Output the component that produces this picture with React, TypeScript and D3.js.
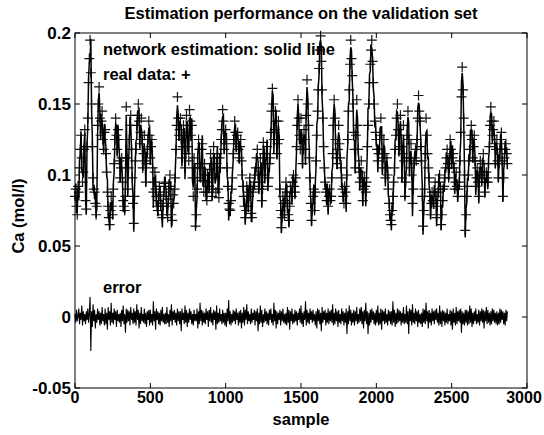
import React from 'react';
import * as d3 from 'd3';

// Ca, real data, read every 5 samples (sample = index * 5)
const realData = [
  0.085, 0.09, 0.078, 0.072, 0.092, 0.088, 0.105, 0.118, 0.128, 0.112, 0.095, 0.102, 0.118, 0.132, 0.082, 0.076, 0.12, 0.14, 0.165, 0.182,
  0.195, 0.172, 0.15, 0.12, 0.098, 0.09, 0.088, 0.08, 0.072, 0.078, 0.135, 0.15, 0.162, 0.14, 0.128, 0.138, 0.145, 0.125, 0.118, 0.13,
  0.132, 0.115, 0.102, 0.088, 0.078, 0.07, 0.065, 0.075, 0.085, 0.078, 0.072, 0.09, 0.108, 0.125, 0.14, 0.128, 0.118, 0.132, 0.125, 0.11,
  0.098, 0.105, 0.112, 0.095, 0.082, 0.078, 0.075, 0.085, 0.148, 0.112, 0.09, 0.105, 0.125, 0.135, 0.142, 0.118, 0.098, 0.08, 0.066, 0.085,
  0.11, 0.118, 0.135, 0.142, 0.15, 0.138, 0.122, 0.13, 0.14, 0.125, 0.105, 0.115, 0.128, 0.11, 0.095, 0.108, 0.118, 0.125, 0.138, 0.128,
  0.112, 0.12, 0.125, 0.105, 0.088, 0.095, 0.102, 0.09, 0.085, 0.078, 0.075, 0.082, 0.092, 0.086, 0.08, 0.072, 0.07, 0.078, 0.088, 0.094,
  0.095, 0.085, 0.078, 0.07, 0.083, 0.09, 0.1, 0.092, 0.072, 0.068, 0.086, 0.08, 0.09, 0.098, 0.118, 0.135, 0.155, 0.14, 0.128, 0.132,
  0.14, 0.125, 0.112, 0.12, 0.135, 0.128, 0.105, 0.115, 0.142, 0.13, 0.12, 0.11, 0.146, 0.138, 0.128, 0.135, 0.098, 0.085, 0.112, 0.105,
  0.064, 0.072, 0.09, 0.108, 0.125, 0.118, 0.105, 0.098, 0.118, 0.122, 0.096, 0.088, 0.108, 0.1, 0.088, 0.082, 0.1, 0.095, 0.092, 0.104,
  0.115, 0.108, 0.085, 0.09, 0.12, 0.112, 0.098, 0.088, 0.108, 0.115, 0.09, 0.084, 0.112, 0.105, 0.125, 0.132, 0.146, 0.138, 0.118, 0.125,
  0.132, 0.122, 0.105, 0.092, 0.08, 0.076, 0.075, 0.082, 0.09, 0.098, 0.115, 0.125, 0.138, 0.13, 0.122, 0.128, 0.13, 0.118, 0.112, 0.12,
  0.125, 0.11, 0.1, 0.092, 0.085, 0.078, 0.07, 0.075, 0.092, 0.088, 0.078, 0.085, 0.098, 0.09, 0.073, 0.07, 0.088, 0.092, 0.095, 0.1,
  0.105, 0.112, 0.118, 0.1, 0.09, 0.095, 0.112, 0.105, 0.082, 0.09, 0.123, 0.115, 0.1, 0.108, 0.115, 0.12, 0.092, 0.098, 0.108, 0.112,
  0.13, 0.145, 0.161, 0.15, 0.125, 0.132, 0.145, 0.138, 0.115, 0.122, 0.138, 0.125, 0.09, 0.075, 0.063, 0.07, 0.085, 0.08, 0.072, 0.082,
  0.095, 0.088, 0.08, 0.072, 0.068, 0.078, 0.092, 0.088, 0.085, 0.095, 0.1, 0.092, 0.088, 0.098, 0.12, 0.135, 0.153, 0.14, 0.128, 0.118,
  0.14, 0.125, 0.108, 0.118, 0.132, 0.125, 0.118, 0.142, 0.167, 0.15, 0.135, 0.112, 0.098, 0.08, 0.068, 0.075, 0.085, 0.09, 0.075, 0.088,
  0.11, 0.128, 0.145, 0.16, 0.175, 0.188, 0.198, 0.18, 0.16, 0.14, 0.12, 0.105, 0.095, 0.088, 0.082, 0.09, 0.078, 0.085, 0.09, 0.082,
  0.085, 0.098, 0.115, 0.135, 0.153, 0.14, 0.125, 0.112, 0.108, 0.118, 0.135, 0.122, 0.112, 0.105, 0.098, 0.09, 0.085, 0.08, 0.092, 0.088,
  0.08, 0.1, 0.125, 0.145, 0.16, 0.178, 0.195, 0.182, 0.17, 0.15, 0.13, 0.118, 0.105, 0.128, 0.153, 0.135, 0.118, 0.105, 0.095, 0.102,
  0.11, 0.098, 0.082, 0.09, 0.098, 0.092, 0.088, 0.095, 0.12, 0.135, 0.15, 0.165, 0.178, 0.188, 0.195, 0.18, 0.165, 0.15, 0.138, 0.13,
  0.125, 0.118, 0.11, 0.115, 0.118, 0.128, 0.14, 0.125, 0.105, 0.112, 0.125, 0.115, 0.098, 0.105, 0.112, 0.1, 0.09, 0.08, 0.072, 0.068,
  0.065, 0.075, 0.085, 0.095, 0.105, 0.118, 0.128, 0.14, 0.15, 0.132, 0.118, 0.128, 0.142, 0.12, 0.098, 0.115, 0.135, 0.11, 0.085, 0.095,
  0.112, 0.128, 0.145, 0.125, 0.105, 0.112, 0.122, 0.1, 0.08, 0.09, 0.108, 0.112, 0.118, 0.11, 0.125, 0.14, 0.156, 0.145, 0.138, 0.12,
  0.11, 0.085, 0.064, 0.075, 0.09, 0.115, 0.14, 0.128, 0.115, 0.105, 0.098, 0.085, 0.072, 0.08, 0.088, 0.082, 0.08, 0.088, 0.095, 0.085,
  0.07, 0.078, 0.088, 0.095, 0.1, 0.09, 0.065, 0.072, 0.082, 0.09, 0.092, 0.098, 0.105, 0.112, 0.118, 0.108, 0.098, 0.105, 0.125, 0.118,
  0.108, 0.112, 0.115, 0.105, 0.09, 0.095, 0.102, 0.092, 0.085, 0.09, 0.095, 0.11, 0.13, 0.155, 0.176, 0.16, 0.14, 0.1, 0.061, 0.072,
  0.085, 0.092, 0.1, 0.11, 0.118, 0.128, 0.135, 0.125, 0.112, 0.12, 0.128, 0.11, 0.092, 0.098, 0.105, 0.095, 0.085, 0.098, 0.11, 0.102,
  0.098, 0.108, 0.115, 0.1, 0.088, 0.095, 0.102, 0.098, 0.095, 0.108, 0.12, 0.135, 0.148, 0.138, 0.128, 0.132, 0.138, 0.122, 0.108, 0.118,
  0.125, 0.11, 0.098, 0.108, 0.118, 0.125, 0.13, 0.11, 0.085, 0.098, 0.112, 0.118, 0.122, 0.115, 0.108,
];

// estimation error (real - network), same sampling
const errorData = [
  0.002, -0.004, 0.005, -0.003, 0.001, 0.006, -0.005, 0.003, -0.002, 0.008, -0.006, 0.004, -0.003, 0.002, -0.005, 0.004, -0.002, 0.006, -0.004, 0.003,
  0.014, -0.024, 0.004, -0.007, 0.009, -0.003, 0.005, -0.008, 0.002, -0.004, 0.006, -0.002, 0.004, -0.006, 0.003, -0.005, 0.007, -0.003, 0.002, -0.006,
  0.006, -0.005, 0.003, -0.009, 0.007, -0.002, 0.004, -0.006, 0.010, -0.004, 0.003, -0.005, 0.006, -0.002, 0.004, -0.007, 0.005, -0.003, 0.002, -0.004,
  0.003, -0.007, 0.005, -0.003, 0.008, -0.005, 0.002, -0.011, 0.006, -0.004, 0.005, -0.003, 0.004, -0.006, 0.007, -0.002, 0.003, -0.005, 0.006, -0.004,
  0.004, -0.006, 0.009, -0.002, 0.005, -0.008, 0.003, -0.005, 0.007, -0.003, 0.002, -0.004, 0.006, -0.005, 0.003, -0.007, 0.004, -0.002, 0.005, -0.006,
  0.005, -0.004, 0.002, -0.006, 0.011, -0.003, 0.004, -0.009, 0.006, -0.002, 0.004, -0.005, 0.003, -0.006, 0.005, -0.003, 0.007, -0.004, 0.002, -0.005,
  0.003, -0.005, 0.007, -0.004, 0.002, -0.007, 0.005, -0.003, 0.009, -0.006, 0.004, -0.002, 0.005, -0.004, 0.003, -0.006, 0.006, -0.003, 0.004, -0.005,
  0.004, -0.010, 0.006, -0.002, 0.003, -0.005, 0.008, -0.004, 0.005, -0.007, 0.003, -0.004, 0.006, -0.002, 0.004, -0.005, 0.002, -0.006, 0.005, -0.003,
  0.002, -0.003, 0.006, -0.008, 0.004, -0.005, 0.010, -0.003, 0.005, -0.006, 0.004, -0.004, 0.003, -0.005, 0.006, -0.002, 0.004, -0.007, 0.005, -0.003,
  0.007, -0.004, 0.003, -0.006, 0.005, -0.002, 0.004, -0.009, 0.008, -0.005, 0.003, -0.004, 0.006, -0.003, 0.002, -0.005, 0.005, -0.004, 0.003, -0.006,
  0.003, -0.007, 0.006, -0.003, 0.012, -0.005, 0.004, -0.006, 0.002, -0.004, 0.005, -0.003, 0.004, -0.005, 0.006, -0.002, 0.003, -0.006, 0.004, -0.004,
  0.005, -0.008, 0.003, -0.004, 0.007, -0.006, 0.005, -0.002, 0.009, -0.005, 0.004, -0.003, 0.002, -0.005, 0.006, -0.004, 0.003, -0.002, 0.005, -0.006,
  0.004, -0.003, 0.006, -0.010, 0.003, -0.005, 0.008, -0.004, 0.005, -0.007, 0.002, -0.004, 0.006, -0.003, 0.004, -0.005, 0.003, -0.006, 0.005, -0.002,
  0.006, -0.004, 0.002, -0.006, 0.010, -0.003, 0.005, -0.008, 0.004, -0.005, 0.003, -0.002, 0.005, -0.006, 0.004, -0.003, 0.006, -0.004, 0.002, -0.005,
  0.003, -0.006, 0.007, -0.004, 0.005, -0.009, 0.004, -0.003, 0.006, -0.005, 0.002, -0.004, 0.005, -0.003, 0.004, -0.006, 0.003, -0.002, 0.006, -0.004,
  0.008, -0.005, 0.003, -0.007, 0.004, -0.002, 0.011, -0.006, 0.005, -0.004, 0.003, -0.005, 0.006, -0.002, 0.004, -0.004, 0.005, -0.003, 0.002, -0.006,
  0.004, -0.008, 0.006, -0.003, 0.005, -0.005, 0.003, -0.010, 0.007, -0.004, 0.004, -0.002, 0.005, -0.006, 0.003, -0.004, 0.006, -0.005, 0.004, -0.003,
  0.005, -0.004, 0.009, -0.006, 0.003, -0.005, 0.006, -0.003, 0.004, -0.007, 0.005, -0.004, 0.002, -0.005, 0.006, -0.003, 0.004, -0.006, 0.003, -0.004,
  0.006, -0.012, 0.004, -0.005, 0.008, -0.003, 0.005, -0.006, 0.003, -0.004, 0.005, -0.006, 0.004, -0.003, 0.007, -0.005, 0.002, -0.004, 0.006, -0.003,
  0.007, -0.005, 0.004, -0.008, 0.005, -0.003, 0.010, -0.005, 0.004, -0.012, 0.003, -0.006, 0.005, -0.004, 0.006, -0.002, 0.004, -0.005, 0.003, -0.006,
  0.005, -0.004, 0.008, -0.006, 0.003, -0.005, 0.006, -0.009, 0.005, -0.003, 0.004, -0.005, 0.006, -0.004, 0.002, -0.006, 0.005, -0.003, 0.004, -0.005,
  0.004, -0.006, 0.011, -0.004, 0.005, -0.007, 0.003, -0.005, 0.006, -0.004, 0.005, -0.003, 0.004, -0.006, 0.003, -0.004, 0.007, -0.005, 0.002, -0.004,
  0.008, -0.005, 0.004, -0.012, 0.006, -0.003, 0.005, -0.006, 0.009, -0.004, 0.003, -0.005, 0.006, -0.003, 0.004, -0.007, 0.005, -0.004, 0.002, -0.005,
  0.003, -0.007, 0.006, -0.004, 0.005, -0.005, 0.010, -0.003, 0.004, -0.008, 0.005, -0.004, 0.003, -0.006, 0.006, -0.003, 0.004, -0.005, 0.005, -0.002,
  0.006, -0.004, 0.003, -0.006, 0.008, -0.005, 0.004, -0.007, 0.005, -0.003, 0.004, -0.006, 0.003, -0.004, 0.006, -0.005, 0.002, -0.003, 0.005, -0.006,
  0.004, -0.009, 0.006, -0.004, 0.003, -0.006, 0.007, -0.005, 0.004, -0.003, 0.005, -0.004, 0.006, -0.011, 0.004, -0.005, 0.003, -0.006, 0.005, -0.004,
  0.005, -0.006, 0.004, -0.005, 0.008, -0.004, 0.006, -0.007, 0.003, -0.005, 0.004, -0.003, 0.006, -0.005, 0.002, -0.004, 0.005, -0.006, 0.004, -0.003,
  0.006, -0.004, 0.005, -0.008, 0.004, -0.003, 0.007, -0.005, 0.005, -0.004, 0.003, -0.006, 0.004, -0.005, 0.006, -0.003, 0.005, -0.004, 0.003, -0.005,
  0.004, -0.006, 0.003, -0.005, 0.006, -0.004, 0.005, -0.002, 0.004, -0.005, 0.003, -0.006, 0.005, -0.003, 0.004,
];

const sampleStep = 5;
const xTicks = [0, 500, 1000, 1500, 2000, 2500, 3000];
const yTicks = [-0.05, 0, 0.05, 0.1, 0.15, 0.2];
const yTickLabels = ['-0.05', '0', '0.05', '0.1', '0.15', '0.2'];

const W = 544;
const H = 435;
const margin = { left: 75, right: 17, top: 33, bottom: 47 };
const font = '"Liberation Sans", Arial, sans-serif';

export default function App() {
  const x = d3.scaleLinear().domain([0, 3000]).range([margin.left, W - margin.right]);
  const y = d3.scaleLinear().domain([-0.05, 0.2]).range([H - margin.bottom, margin.top]);
  const n = Math.min(realData.length, errorData.length);
  // network estimate = real data minus error
  const estimation = d3.range(n).map(i => realData[i] - errorData[i]);

  const line = d3.line<number>().x((d, i) => x(i * sampleStep)).y(d => y(d));
  const x0 = margin.left, x1 = W - margin.right, y0 = H - margin.bottom, y1 = margin.top;
  const tk = 5;

  return (
    <svg width={W} height={H} style={{ position: 'absolute', left: 0, top: 0, background: '#fff' }}>
      <rect x={0} y={0} width={W} height={H} fill="#fff" />
      <text x={(x0 + x1) / 2} y={19} textAnchor="middle" fontFamily={font} fontWeight="bold" fontSize={16.5}>
        Estimation performance on the validation set
      </text>

      {/* real data: + markers */}
      <g stroke="#111" strokeWidth={1.2} fill="none">
        {realData.map((d, i) => {
          const cx = x(i * sampleStep), cy = y(d);
          return <path key={i} d={`M${cx - 5},${cy}H${cx + 5}M${cx},${cy - 5}V${cy + 5}`} />;
        })}
      </g>
      <path d={line(estimation) || ''} fill="none" stroke="#000" strokeWidth={1.5} />
      <path d={line(errorData) || ''} fill="none" stroke="#000" strokeWidth={1.1} />

      {/* frame and ticks */}
      <rect x={x0} y={y1} width={x1 - x0} height={y0 - y1} fill="none" stroke="#000" strokeWidth={1} />
      {xTicks.map(t => (
        <g key={'x' + t}>
          <line x1={x(t)} x2={x(t)} y1={y0} y2={y0 - tk} stroke="#000" />
          <line x1={x(t)} x2={x(t)} y1={y1} y2={y1 + tk} stroke="#000" />
          <text x={Math.min(x(t), 524)} y={403} textAnchor="middle" fontFamily={font} fontWeight="bold" fontSize={16}>{t}</text>
        </g>
      ))}
      {yTicks.map((t, i) => (
        <g key={'y' + t}>
          <line x1={x0} x2={x0 + tk} y1={y(t)} y2={y(t)} stroke="#000" />
          <line x1={x1} x2={x1 - tk} y1={y(t)} y2={y(t)} stroke="#000" />
          <text x={71} y={y(t) + 6} textAnchor="end" fontFamily={font} fontWeight="bold" fontSize={17}>{yTickLabels[i]}</text>
        </g>
      ))}
      <text x={(x0 + x1) / 2} y={425} textAnchor="middle" fontFamily={font} fontWeight="bold" fontSize={16.5}>sample</text>
      <text transform={`translate(24,216) rotate(-90)`} textAnchor="middle" fontFamily={font} fontWeight="bold" fontSize={16.5}>Ca (mol/l)</text>

      <text x={103} y={55} fontFamily={font} fontWeight="bold" fontSize={16.5}>network estimation: solid line</text>
      <text x={103} y={80} fontFamily={font} fontWeight="bold" fontSize={16.5}>real data: +</text>
      <text x={103} y={293} fontFamily={font} fontWeight="bold" fontSize={16.5}>error</text>
    </svg>
  );
}
